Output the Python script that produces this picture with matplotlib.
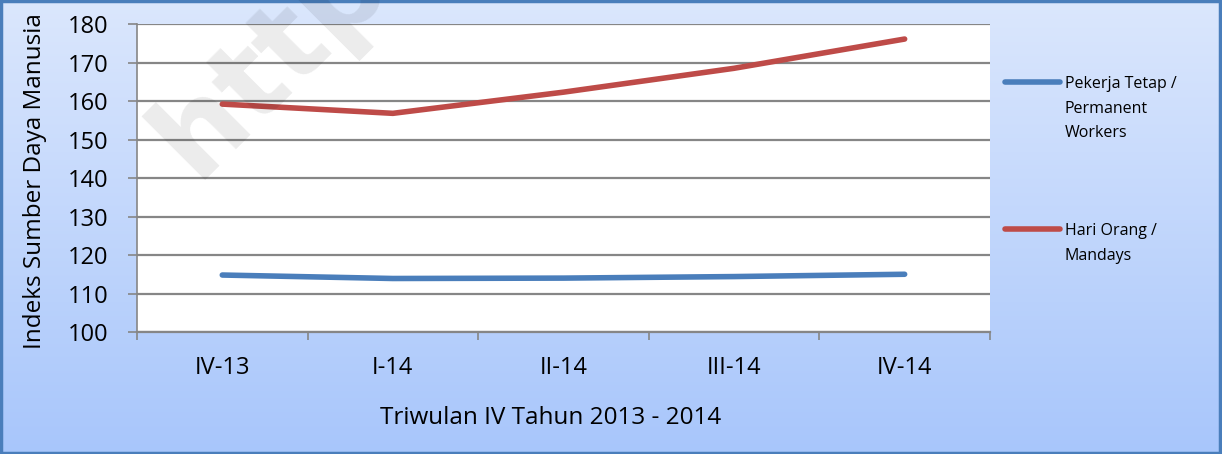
import numpy as np
import matplotlib
matplotlib.use("Agg")
import matplotlib.pyplot as plt
from matplotlib.patches import Rectangle
from matplotlib.lines import Line2D

plt.rcParams["font.family"] = ["Open Sans", "DejaVu Sans"]

quarters = ["IV-13", "I-14", "II-14", "III-14", "IV-14"]
permanent = [114.8, 113.9, 114.0, 114.4, 115.0]
mandays = [159.2, 156.8, 162.3, 168.5, 176.1]
series_names = ["Pekerja Tetap /\nPermanent\nWorkers", "Hari Orang /\nMandays"]
colors = ["#4a7ebb", "#be4b48"]

fig = plt.figure(figsize=(12.22, 4.54), dpi=100)

# gradient background
bg = fig.add_axes([0, 0, 1, 1], zorder=-10)
grad = np.linspace(0, 1, 256).reshape(-1, 1)
cmap = matplotlib.colors.LinearSegmentedColormap.from_list("bg", ["#dbe7fd", "#a8c6fb"])
bg.imshow(grad, aspect="auto", cmap=cmap, extent=[0, 1, 0, 1], origin="upper")
bg.set_xlim(0, 1)
bg.set_ylim(0, 1)
bg.axis("off")
fig.patches.append(Rectangle((0.001, 0.002), 0.997, 0.996, transform=fig.transFigure,
                             fill=False, edgecolor="#4a7ebb", lw=2.5))

ax = fig.add_axes([0.1121, 0.2687, 0.6980, 0.6784])
ax.set_facecolor("white")
x = np.arange(len(quarters))
ax.plot(x, permanent, color=colors[0], lw=4, solid_capstyle="round", zorder=3)
ax.plot(x, mandays, color=colors[1], lw=4, solid_capstyle="round", zorder=3)

ax.set_ylim(100, 180)
ax.set_yticks(range(100, 181, 10))
ax.set_xlim(-0.5, len(quarters) - 0.5)
ax.set_xticks(np.arange(-0.5, len(quarters), 1.0))
ax.set_xticklabels([])
ax.set_xticks(x, minor=True)
ax.set_xticklabels(quarters, minor=True)
ax.tick_params(axis="x", which="major", length=6, width=1.2, color="#868686", direction="out")
ax.tick_params(axis="x", which="minor", length=0, pad=17, labelsize=17)
ax.tick_params(axis="y", length=6.5, width=1.2, color="#868686", pad=14, labelsize=17)
ax.grid(axis="y", color="#868686", lw=1.6)
ax.set_axisbelow(True)
for s in ["top", "right"]:
    ax.spines[s].set_visible(False)
ax.spines["left"].set_color("#868686")
ax.spines["bottom"].set_color("#868686")
ax.spines["left"].set_linewidth(1.2)
ax.spines["bottom"].set_linewidth(1.6)

ax.set_xlabel("Triwulan IV Tahun 2013 - 2014", fontsize=17.5)
ax.xaxis.set_label_coords((551 - 137) / 853, -0.24)
fig.text(0.029, 0.601, "Indeks Sumber Daya Manusia", rotation=90, fontsize=17.5,
         ha="center", va="center")

# legend keys, first text line aligned with the key
legend_y = [1 - 82 / 454, 1 - 229 / 454]
for name, col, ly in zip(series_names, colors, legend_y):
    fig.add_artist(Line2D([1005 / 1222, 1060 / 1222], [ly, ly], transform=fig.transFigure,
                          color=col, lw=4, solid_capstyle="round"))
    fig.text(1065 / 1222, ly + 6 / 454, name, fontsize=11.5, ha="left", va="top",
             linespacing=1.72)

# watermark
fig.text(0.160, 0.603, "http://", rotation=45, rotation_mode="anchor",
         ha="left", va="baseline", fontsize=84, fontweight="bold",
         family="DejaVu Sans", color="black", alpha=0.08, zorder=20)

fig.savefig("out.png", dpi=100)
